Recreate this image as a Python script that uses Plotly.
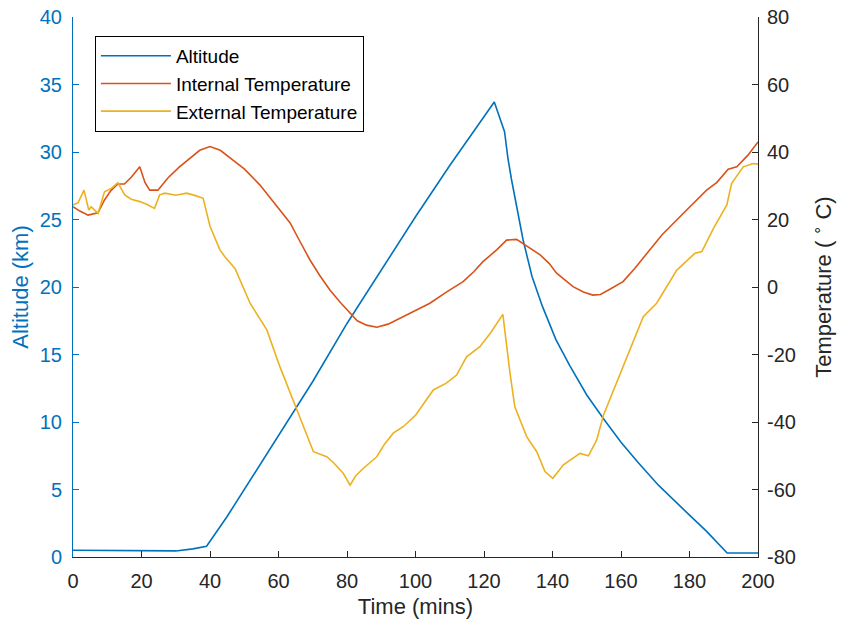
import plotly.graph_objects as go

# Altitude (km)
alt_t = [0, 4, 10, 20, 30, 35, 39, 45, 50, 60, 70, 80, 90, 100, 110, 123,
         126, 127, 128, 129, 131.4, 134, 137, 141, 145, 150, 155, 160, 165,
         171, 175, 180, 185, 190, 191, 200]
alt_v = [0.5, 0.5, 0.45, 0.45, 0.45, 0.6, 0.8, 3.0, 5.0, 8.9, 13.0, 17.3, 21.3,
         25.2, 29.0, 33.7, 31.5, 29.5, 28.0, 26.7, 23.5, 20.8, 18.6, 16.1, 14.2,
         12.0, 10.2, 8.5, 7.0, 5.3, 4.3, 3.1, 1.9, 0.6, 0.3, 0.3]

# Internal temperature (°C)
int_t = [0, 2, 4.4, 6, 7.3, 9.2, 11, 13, 15, 17, 19.5, 21, 22.4, 24.8, 27.7, 31,
         34, 37, 40, 43, 46.7, 50, 54.6, 58, 63.4, 66, 69.2, 72, 75, 78, 80.9, 83,
         85.7, 88.7, 92, 95.5, 100, 104.2, 109, 113.9, 117, 119.7, 123.7, 126.6,
         129.5, 132, 136.4, 139, 141.2, 146, 149, 151.8, 154, 157, 160.6, 164,
         167.5, 172, 177.2, 181, 185, 188, 191.3, 193.8, 197, 200]
int_v = [23.8, 22.5, 21.3, 21.8, 22.0, 25.8, 28.5, 30.5, 30.5, 32.5, 35.6, 31.0,
         28.7, 28.7, 32.3, 35.5, 38.0, 40.5, 41.6, 40.5, 37.6, 35.0, 30.2, 26.0,
         19.0, 14.0, 8.0, 3.5, -0.9, -4.5, -7.7, -10.0, -11.3, -11.9, -11.0, -9.2,
         -7.0, -4.8, -1.5, 1.6, 4.5, 7.5, 11.0, 13.9, 14.1, 12.5, 9.5, 7.0, 4.1,
         0.1, -1.5, -2.4, -2.2, -0.5, 1.6, 5.5, 10.0, 15.5, 20.8, 24.5, 28.7, 31.0,
         34.9, 35.6, 39.0, 43.0]

# External temperature (°C)
ext_t = [0, 1.5, 3.2, 3.9, 4.6, 5.3, 7.3, 9.2, 11.2, 13.1, 15.1, 17, 19.5, 21.5,
         23.8, 25.3, 26.8, 30, 33.2, 36, 38, 40, 42.9, 44.4, 47.3, 51.7, 56.6,
         60.4, 65.3, 70.2, 74.1, 76, 78.9, 80.9, 82.5, 84.8, 88.7, 91, 93.5, 96.4,
         100, 105.2, 109, 112, 114.9, 118.8, 122, 125.5, 127.6, 129, 132.5, 135.4,
         137.8, 140.1, 143.2, 145, 148, 150.5, 152.9, 154.9, 158.7, 161.7, 166.5,
         170.4, 176.3, 181.6, 183.6, 187, 190.9, 192.3, 195.7, 198.6, 200]
ext_v = [24.3, 25.0, 28.7, 25.8, 22.8, 23.8, 21.8, 28.2, 29.2, 30.9, 27.3, 26.0,
         25.3, 24.5, 23.3, 27.3, 27.8, 27.2, 27.8, 27.0, 26.3, 18.0, 11.0, 8.9,
         5.5, -4.8, -12.7, -23.6, -36.4, -48.8, -50.3, -52.0, -55.2, -58.7, -56.0,
         -53.7, -50.3, -46.5, -43.3, -41.4, -38.0, -30.5, -28.5, -26.1, -20.7,
         -17.7, -13.5, -8.1, -25.6, -35.5, -44.4, -48.8, -54.7, -56.7, -52.7,
         -51.5, -49.3, -50.0, -45.3, -37.9, -28.5, -20.7, -8.8, -4.8, 5.0, 10.0,
         10.5, 17.4, 24.3, 30.7, 35.6, 36.6, 36.4]

# Tick labels
x_ticks = [0, 20, 40, 60, 80, 100, 120, 140, 160, 180, 200]
alt_ticks = [0, 5, 10, 15, 20, 25, 30, 35, 40]
temp_ticks = [-80, -60, -40, -20, 0, 20, 40, 60, 80]
temp_tick_text = [str(v) for v in temp_ticks]

BLUE = "#0072BD"
ORANGE = "#D95319"
YELLOW = "#EDB120"
DARK = "#262626"
FONT = "Liberation Sans, Arial, sans-serif"

fig = go.Figure()
fig.add_trace(go.Scatter(x=alt_t, y=alt_v, mode="lines", name="Altitude",
                         line=dict(color=BLUE, width=1.6), yaxis="y"))
fig.add_trace(go.Scatter(x=int_t, y=int_v, mode="lines", name="Internal Temperature",
                         line=dict(color=ORANGE, width=1.6), yaxis="y2"))
fig.add_trace(go.Scatter(x=ext_t, y=ext_v, mode="lines", name="External Temperature",
                         line=dict(color=YELLOW, width=1.6), yaxis="y2"))

fig.update_layout(
    width=841, height=627,
    margin=dict(l=73, r=83, t=17, b=70, autoexpand=False),
    paper_bgcolor="white", plot_bgcolor="white",
    font=dict(family=FONT, size=20, color=DARK),
    showlegend=True,
    legend=dict(x=0.032, y=0.965, xanchor="left", yanchor="top",
                bgcolor="white", bordercolor="#000000", borderwidth=1,
                itemwidth=70,
                font=dict(size=19, color="#000000"), tracegroupgap=0),
    xaxis=dict(range=[0, 200], tickvals=x_ticks, showgrid=False, zeroline=False,
               showline=True, linecolor=DARK, linewidth=1, ticks="inside",
               ticklen=6, tickcolor=DARK, mirror=False, automargin=False,
               ticklabelstandoff=6, ticklabeloverflow="allow",
               tickfont=dict(size=20, color=DARK),
               title=dict(text="Time (mins)", font=dict(size=22, color=DARK), standoff=7)),
    yaxis=dict(range=[0, 40], tickvals=alt_ticks, showgrid=False, zeroline=False,
               showline=True, linecolor=BLUE, linewidth=1, ticks="inside",
               ticklen=6, tickcolor=BLUE, automargin=False,
               ticklabelstandoff=6, ticklabeloverflow="allow",
               tickfont=dict(size=20, color=BLUE),
               title=dict(text="Altitude (km)", font=dict(size=22, color=BLUE), standoff=5)),
    yaxis2=dict(range=[-80, 80], tickvals=temp_ticks, ticktext=temp_tick_text,
                overlaying="y", side="right", automargin=False,
                showgrid=False, zeroline=False, showline=True, linecolor=DARK,
                linewidth=1, ticks="inside", ticklen=6, tickcolor=DARK,
                ticklabelstandoff=4, ticklabeloverflow="allow",
                tickfont=dict(size=20, color=DARK),
                title=dict(text="Temperature ( <sup>∘</sup> C)",
                           font=dict(size=22, color=DARK), standoff=20)),
)

# remove the default 8px page margin so the figure fills the window exactly
fig.write_html("out.html",
               config={"displayModeBar": False},
               post_script="document.body.style.margin='0px';document.body.style.overflow='hidden';")
